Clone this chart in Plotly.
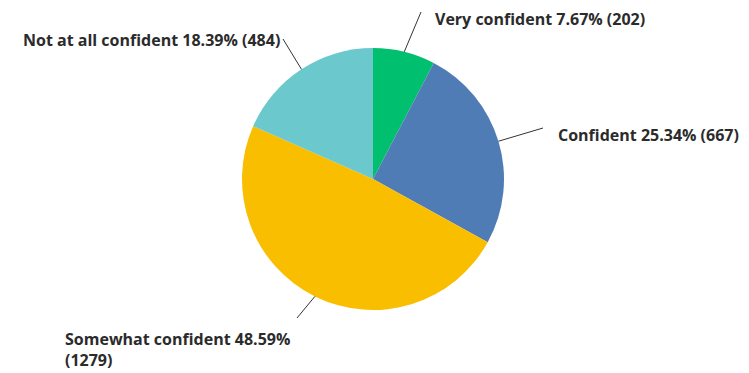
import math
import plotly.graph_objects as go

categories = ["Very confident", "Confident", "Somewhat confident", "Not at all confident"]
percents = [7.67, 25.34, 48.59, 18.39]
counts = [202, 667, 1279, 484]
colors = ["#00BF6F", "#507CB6", "#F9BE00", "#6BC8CD"]

# page body has an 8px margin; figure fills the rest of the window
OFF = 8
W, H = 749 - OFF, 373 - OFF
# pie placement in window pixels
cx, cy, r = 373, 179, 131

def px(x):
    return (x - OFF) / W

def py(y):
    return 1 - (y - OFF) / H

fig = go.Figure(go.Pie(
    labels=categories,
    values=counts,
    sort=False,
    direction="clockwise",
    rotation=0,
    marker=dict(colors=colors, line=dict(width=0)),
    textinfo="none",
    hoverinfo="label+percent+value",
    domain=dict(x=[px(cx - r), px(cx + r)], y=[py(cy + r), py(cy - r)]),
    showlegend=False,
))

# label placement (layout): text anchor point, anchor side, leader outer end
label_layout = [
    dict(tx=434, ty=19, xa="left", lx=421, ly=12),
    dict(tx=557, ty=135, xa="left", lx=543, ly=128),
    dict(tx=64, ty=349, xa="left", lx=297, ly=318),
    dict(tx=281, ty=40, xa="right", lx=283, ly=39),
]

total = sum(counts)
cum = 0
shapes = []
annotations = []
for cat, pct, cnt, lay in zip(categories, percents, counts, label_layout):
    mid = (cum + cnt / 2) / total * 2 * math.pi
    cum += cnt
    ex = cx + r * math.sin(mid)
    ey = cy - r * math.cos(mid)
    shapes.append(dict(type="line", xref="paper", yref="paper",
                       x0=px(ex), y0=py(ey), x1=px(lay["lx"]), y1=py(lay["ly"]),
                       line=dict(color="#333333", width=1)))
    if cat == "Somewhat confident":
        text = f"{cat} {pct:.2f}%<br>({cnt})"
    else:
        text = f"{cat} {pct:.2f}% ({cnt})"
    annotations.append(dict(xref="paper", yref="paper", x=px(lay["tx"]), y=py(lay["ty"]),
                            xanchor=lay["xa"], yanchor="middle", text=text, showarrow=False,
                            align="left", borderpad=0,
                            font=dict(family="Open Sans", size=16, color="#2b2b2b", weight=700)))

fig.update_layout(
    width=W, height=H,
    margin=dict(l=0, r=0, t=0, b=0),
    paper_bgcolor="white",
    plot_bgcolor="white",
    shapes=shapes,
    annotations=annotations,
)

fig.write_html("out.html")
